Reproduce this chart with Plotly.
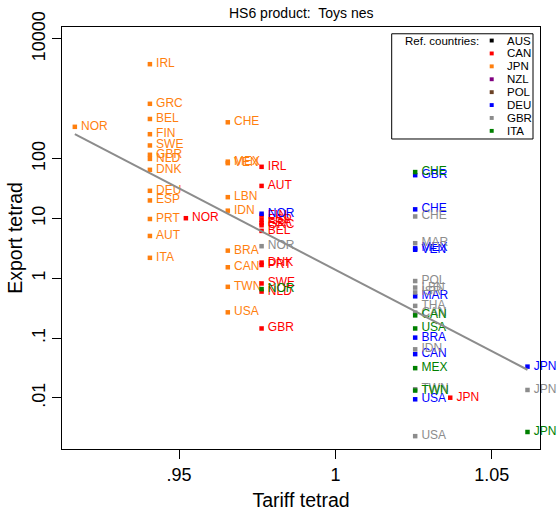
import plotly.graph_objects as go

# Reference countries (legend order) and their marker colours
ref_countries = ["AUS", "CAN", "JPN", "NZL", "POL", "DEU", "GBR", "ITA"]
ref_colors = ["#000000", "#ff0000", "#ff7f0e", "#800080", "#6b4226", "#0000ff", "#8c8c8c", "#008000"]

# Partner observations, one set of arrays per reference country
jpn_partner = ["NOR", "IRL", "GRC", "BEL", "FIN", "SWE", "GBR", "NLD", "DNK", "DEU", "ESP", "PRT",
               "AUT", "ITA", "CHE", "MEX", "VEN", "LBN", "IDN", "BRA", "CAN", "TWN", "USA"]
jpn_tariff = [0.9167, 0.9407, 0.9407, 0.9407, 0.9407, 0.9407, 0.9407, 0.9407, 0.9407, 0.9407, 0.9407,
              0.9407, 0.9407, 0.9407, 0.9656, 0.9656, 0.9656, 0.9656, 0.9656, 0.9656, 0.9656, 0.9656, 0.9656]
jpn_export = [340, 3790, 825, 460, 256, 166, 116, 99, 65, 29, 20, 9.8,
              5.1, 2.2, 405, 89, 84, 22.7, 13.5, 2.9, 1.53, 0.72, 0.27]

can_partner = ["NOR", "IRL", "AUT", "FIN", "ESP", "FRA", "GRC", "BEL", "DNK", "PRT", "SWE", "NLD", "GBR", "JPN"]
can_tariff = [0.9522, 0.9764, 0.9764, 0.9764, 0.9764, 0.9764, 0.9764, 0.9764, 0.9764, 0.9764,
              0.9764, 0.9764, 0.9764, 1.0367]
can_export = [10.1, 73, 35, 11.2, 9.5, 8.4, 7.7, 6.2, 1.83, 1.67, 0.82, 0.6, 0.145, 0.0101]

deu_partner = ["NOR", "GBR", "CHE", "MEX", "VEN", "MAR", "BRA", "CAN", "USA", "JPN"]
deu_tariff = [0.9764, 1.0255, 1.0255, 1.0255, 1.0255, 1.0255, 1.0255, 1.0255, 1.0255, 1.0614]
deu_export = [12, 52.9, 14.2, 3.17, 3.0, 0.50, 0.102, 0.054, 0.0095, 0.0334]

gbr_partner = ["NOR", "CHE", "MAR", "POL", "LBN", "ISR", "THA", "CAN", "IDN", "TWN", "USA", "JPN"]
gbr_tariff = [0.9764, 1.0255, 1.0255, 1.0255, 1.0255, 1.0255, 1.0255, 1.0255, 1.0255, 1.0255, 1.0255, 1.0614]
gbr_export = [3.44, 10.8, 3.86, 0.9, 0.7, 0.58, 0.346, 0.267, 0.065, 0.014, 0.0023, 0.0136]

ita_partner = ["NOR", "CHE", "CAN", "USA", "MEX", "TWN", "JPN"]
ita_tariff = [0.9764, 1.0255, 1.0255, 1.0255, 1.0255, 1.0255, 1.0614]
ita_export = [0.66, 59.6, 0.24, 0.145, 0.0315, 0.0133, 0.0027]

# Fitted line (log export on tariff), evaluated at the extreme tariffs
fit_tariff = [0.9167, 1.0614]
fit_export = [256, 0.0296]

x_ticks = [0.95, 1.0, 1.05]
x_ticktext = [".95", "1", "1.05"]
y_ticks = [0.01, 0.1, 1, 10, 100, 10000]
y_ticktext = [".01", ".1", "1", "10", "100", "10000"]

FONT = "Liberation Sans, Arial, Helvetica, sans-serif"
color_of = dict(zip(ref_countries, ref_colors))

series = [
    ("JPN", jpn_partner, jpn_tariff, jpn_export),
    ("CAN", can_partner, can_tariff, can_export),
    ("DEU", deu_partner, deu_tariff, deu_export),
    ("GBR", gbr_partner, gbr_tariff, gbr_export),
    ("ITA", ita_partner, ita_tariff, ita_export),
]

fig = go.Figure()
for ref, partners, tariff, export in series:
    c = color_of[ref]
    fig.add_trace(go.Scatter(
        x=tariff, y=export, text=partners, mode="markers+text",
        texttemplate="\u2009%{text}",
        textposition="middle right",
        marker=dict(symbol="square", size=4.5, color=c),
        textfont=dict(family=FONT, size=12, color=c),
        showlegend=False, name=ref, cliponaxis=False,
    ))

fig.add_trace(go.Scatter(
    x=fit_tariff, y=fit_export, mode="lines",
    line=dict(color="#8c8c8c", width=2), showlegend=False,
))

# Plot area in pixels: x 62..540, y 26..462
L, R, T, B = 62, 540, 26, 462
def px(xp):
    return (xp - L) / (R - L)
def py(yp):
    return (B - yp) / (B - T)

shapes = [dict(type="rect", xref="paper", yref="paper",
               x0=px(391.7), x1=px(533), y0=py(141.7), y1=py(33),
               line=dict(color="black", width=1), fillcolor="white", layer="above")]
annotations = [dict(text="Ref. countries:", xref="paper", yref="paper",
                    x=px(481), y=py(40), xanchor="right", yanchor="middle",
                    showarrow=False, font=dict(family=FONT, size=11.5, color="black"))]
for i, (name, col) in enumerate(zip(ref_countries, ref_colors)):
    yc = 40 + i * 13.33
    shapes.append(dict(type="rect", xref="paper", yref="paper",
                       x0=px(489.7), x1=px(493.7), y0=py(yc + 2), y1=py(yc - 2),
                       line=dict(width=0), fillcolor=col, layer="above"))
    annotations.append(dict(text=name, xref="paper", yref="paper",
                            x=px(505), y=py(yc), xanchor="left", yanchor="middle",
                            showarrow=False, font=dict(family=FONT, size=11.5, color="black")))

annotations.append(dict(text="HS6 product:  Toys nes", xref="paper", yref="paper",
                        x=0.5, y=py(12), xanchor="center", yanchor="middle",
                        showarrow=False, font=dict(family=FONT, size=14, color="black")))

fig.update_layout(
    width=558, height=519,
    margin=dict(l=L, r=558 - R, t=T, b=519 - B),
    paper_bgcolor="white", plot_bgcolor="white",
    font=dict(family=FONT, color="black"),
    shapes=shapes, annotations=annotations,
    xaxis=dict(range=[0.9126, 1.0654], tickvals=x_ticks, ticktext=x_ticktext,
               ticks="outside", ticklen=9, tickcolor="black", showgrid=False, zeroline=False,
               showline=True, linecolor="black", linewidth=1, mirror=True,
               tickfont=dict(size=18),
               title=dict(text="Tariff tetrad", font=dict(size=19.5), standoff=9)),
    yaxis=dict(type="log", range=[-2.853, 4.2], tickvals=y_ticks, ticktext=y_ticktext,
               ticks="outside", ticklen=9, tickcolor="black", showgrid=False, zeroline=False,
               showline=True, linecolor="black", linewidth=1, mirror=True,
               tickangle=-90, tickfont=dict(size=18),
               title=dict(text="Export tetrad", font=dict(size=19.5), standoff=0)),
)

fig.write_html("out.html")
